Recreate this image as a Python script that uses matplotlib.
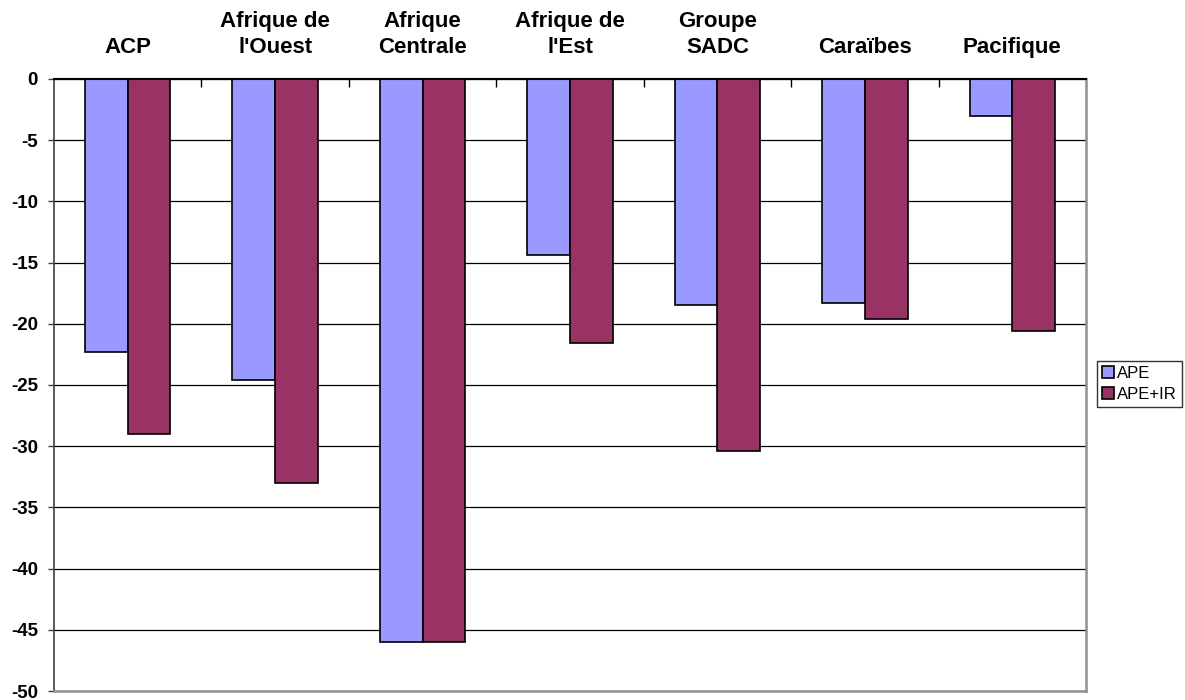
import numpy as np
import matplotlib.pyplot as plt

plt.rcParams['font.family'] = ['Liberation Sans', 'DejaVu Sans']

categories = ["ACP", "Afrique de\nl'Ouest", "Afrique\nCentrale", "Afrique de\nl'Est",
              "Groupe\nSADC", "Caraïbes", "Pacifique"]
ape = [-22.3, -24.6, -46.0, -14.4, -18.5, -18.3, -3.0]
ape_ir = [-29.0, -33.0, -46.0, -21.6, -30.4, -19.6, -20.6]
yticks = list(range(-50, 1, 5))

fig = plt.figure(figsize=(11.85, 7), dpi=100)
ax = fig.add_axes([54 / 1185, 1 - 691 / 700, 1032 / 1185, 612 / 700])

x = np.arange(len(categories))
w = 0.29
ax.bar(x - w / 2, ape, w, color='#9999FF', edgecolor='black', linewidth=1.2, label='APE', zorder=3)
ax.bar(x + w / 2, ape_ir, w, color='#993366', edgecolor='black', linewidth=1.2, label='APE+IR', zorder=3)

ax.set_xlim(-0.5, len(categories) - 0.5)
ax.set_ylim(-50, 0)
ax.set_yticks(yticks)
ax.set_yticklabels([str(v) for v in yticks], fontsize=13.5, fontweight='bold')
ax.yaxis.grid(True, color='black', linewidth=0.9, zorder=0)
ax.tick_params(axis='y', direction='out', length=4.5, width=1, color='#404040', pad=7)

# category labels sit above the zero line
ax.xaxis.tick_top()
ax.set_xticks(x)
ax.set_xticklabels(categories, fontsize=16, fontweight='bold', linespacing=1.3)
ax.set_xticks(x[:-1] + 0.5, minor=True)
ax.tick_params(axis='x', which='major', length=0, pad=15)
ax.tick_params(axis='x', which='minor', direction='in', length=6, width=1, color='black')

ax.spines['top'].set_color('black')
ax.spines['top'].set_linewidth(1.5)
ax.spines['top'].set_zorder(4)
ax.spines['left'].set_color('#404040')
ax.spines['left'].set_linewidth(1.2)
for s in ['right', 'bottom']:
    ax.spines[s].set_color('#909090')
    ax.spines[s].set_linewidth(1.8)

leg = fig.legend(loc='upper left', bbox_to_anchor=(1097 / 1185, 1 - 361 / 700),
                 fontsize=12, frameon=True, fancybox=False, edgecolor='black',
                 handlelength=0.7, handleheight=0.7, handletextpad=0.2,
                 borderpad=0.3, labelspacing=0.35, borderaxespad=0)
leg.get_frame().set_linewidth(1)

fig.savefig('out.png', dpi=100)
